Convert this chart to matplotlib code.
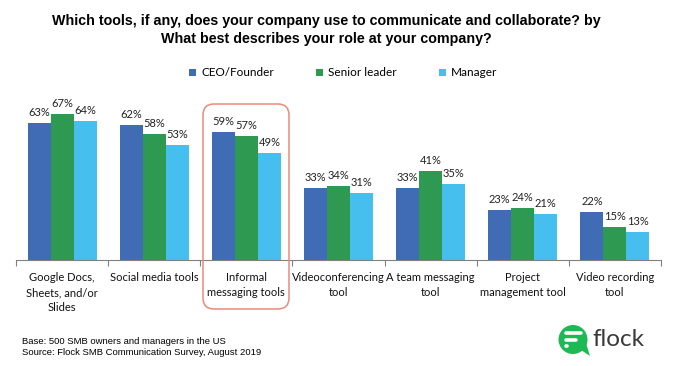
import numpy as np
import matplotlib.pyplot as plt
from matplotlib.patches import FancyBboxPatch, Circle, Polygon

# Data
categories = ['Google Docs,\nSheets, and/or\nSlides', 'Social media tools', 'Informal\nmessaging tools',
              'Videoconferencing\ntool', 'A team messaging\ntool', 'Project\nmanagement tool',
              'Video recording\ntool']
series_names = ['CEO/Founder', 'Senior leader', 'Manager']
ceo = [63, 62, 59, 33, 33, 23, 22]
senior = [67, 58, 57, 34, 41, 24, 15]
manager = [64, 53, 49, 31, 35, 21, 13]
colors = ['#3F6CB4', '#2E9950', '#46BFEF']

W, H = 680, 366
fig = plt.figure(figsize=(W / 100, H / 100), dpi=100)
ax = fig.add_axes([16 / W, 1 - 260 / H, 645 / W, 174 / H])

x = np.arange(len(categories))
bw = 0.25
handles = []
for i, (vals, name) in enumerate(zip([ceo, senior, manager], series_names)):
    bars = ax.bar(x + (i - 1) * bw, vals, bw, color=colors[i], label=name, zorder=2)
    handles.append(bars)
    for xi, v in zip(x + (i - 1) * bw, vals):
        ax.text(xi, v + 2.3, f'{v}%', ha='center', va='bottom', fontsize=8,
                family='Lato', color='#222222')

ax.set_xlim(-0.5, len(categories) - 0.5)
ax.set_ylim(0, 80)
for s in ['top', 'right', 'left']:
    ax.spines[s].set_visible(False)
ax.spines['bottom'].set_color('#808080')
ax.set_yticks([])
ax.set_xticks(np.arange(-0.5, len(categories)))
ax.set_xticklabels([])
ax.tick_params(axis='x', length=4, color='#808080')
for xi, lab in zip(x, categories):
    ax.text(xi, -5.5, lab, ha='center', va='top', fontsize=8, family='Lato',
            color='#111111', linespacing=1.45)

fig.text(0.48, 1 - 30 / H, 'Which tools, if any, does your company use to communicate and collaborate? by\n'
         'What best describes your role at your company?', ha='center', va='center',
         fontsize=10.25, fontweight='bold', family='Liberation Sans', linespacing=1.3)

fig.legend(handles=handles, loc='center', bbox_to_anchor=(0.505, 1 - 73 / H), ncol=3, frameon=False,
           prop={'family': 'Lato', 'size': 8.5}, handlelength=0.6, handleheight=0.6,
           handletextpad=0.4, columnspacing=3.6)

fig.text(22 / W, 1 - 347 / H, 'Base: 500 SMB owners and managers in the US\n'
         'Source: Flock SMB Communication Survey, August 2019', ha='left', va='center',
         fontsize=6.8, family='Liberation Sans', linespacing=1.3)

# overlay in pixel coords for highlight box and logo
ov = fig.add_axes([0, 0, 1, 1], zorder=5)
ov.set_xlim(0, W)
ov.set_ylim(H, 0)
ov.axis('off')
ov.add_patch(FancyBboxPatch((203, 104), 86, 205, boxstyle='round,pad=0,rounding_size=11',
                            fill=False, ec='#EB8A78', lw=1.1))

ov.add_patch(Circle((573, 339.5), 14.5, color='#1DB954', lw=0))
ov.add_patch(Polygon([[578, 348], [590, 356], [586, 343]], closed=True, color='#1DB954', lw=0))
ov.plot([566, 581], [333, 333], color='white', lw=2.6, solid_capstyle='round')
ov.plot([566, 576], [339.5, 339.5], color='white', lw=2.6, solid_capstyle='round')
ov.plot([566, 566.5], [346, 346], color='white', lw=2.6, solid_capstyle='round')
ov.text(592, 340, 'flock', ha='left', va='center', fontsize=17.5, family='Lato', color='#3a3a3a')

fig.savefig('out.png', dpi=100)
